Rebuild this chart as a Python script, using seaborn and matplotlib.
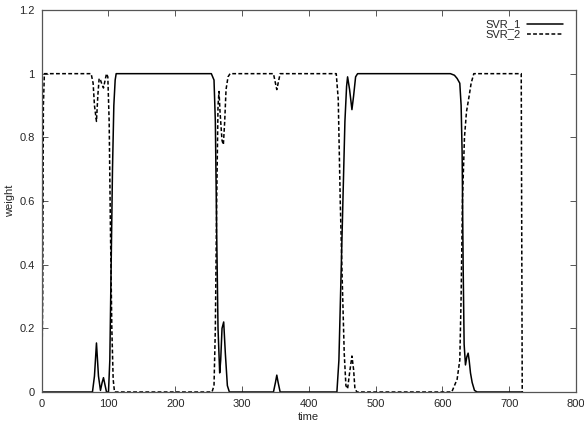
import numpy as np
import matplotlib
matplotlib.use('Agg')
import matplotlib.pyplot as plt
import pandas as pd
import seaborn as sns

# weights
svr1_time = [0, 76, 79, 82, 85, 88, 90.5, 92.5, 95, 97, 100, 102, 104, 106, 108, 110, 111.5,
             254, 258, 260, 262, 264, 266.5, 268, 270, 272.5, 275, 278, 281,
             347, 350, 352, 354, 357,
             442, 445, 448, 451, 454, 456.5, 458, 461, 464.5, 467, 470, 473,
             612, 618, 622, 626, 628, 629.5, 631, 632.5, 634.5, 636.5, 638.5, 640, 642, 644.5, 648, 652, 720]
svr1_weight = [0, 0, 0.05, 0.154, 0.05, 0.005, 0.03, 0.045, 0.02, 0, 0, 0.1, 0.4, 0.7, 0.9, 0.98, 1.0,
               1.0, 0.98, 0.85, 0.5, 0.2, 0.06, 0.1, 0.2, 0.22, 0.12, 0.02, 0,
               0, 0.03, 0.053, 0.03, 0,
               0, 0.1, 0.35, 0.6, 0.85, 0.96, 0.99, 0.95, 0.887, 0.93, 0.99, 1.0,
               1.0, 0.995, 0.985, 0.97, 0.9, 0.75, 0.4, 0.15, 0.085, 0.11, 0.122, 0.1, 0.06, 0.03, 0.005, 0, 0]

svr2_time = [0, 1.5, 2.5, 4, 74, 77, 79, 82, 84, 86, 88, 90.5, 92.5, 95, 97, 99, 101, 103, 105, 107, 109,
             255, 258, 260, 262, 264, 265.5, 267, 270, 272, 274, 276, 279, 282,
             347, 350, 352, 354, 357,
             441, 444, 447, 450, 453, 455.5, 458, 461, 464.5, 467, 469, 472,
             614, 618, 622, 626, 628, 630, 633, 636, 640, 643, 647, 718, 719.5, 720]
svr2_weight = [0, 0.3, 0.9, 1.0, 1.0, 0.97, 0.9, 0.85, 0.93, 0.985, 0.98, 0.965, 0.955, 0.98, 1.0, 0.99, 0.85, 0.5, 0.2, 0.04, 0,
               0, 0.02, 0.2, 0.6, 0.9, 0.944, 0.88, 0.79, 0.777, 0.85, 0.95, 0.99, 1.0,
               1.0, 0.97, 0.95, 0.97, 1.0,
               1.0, 0.92, 0.6, 0.35, 0.12, 0.02, 0.01, 0.06, 0.113, 0.07, 0.01, 0,
               0, 0.02, 0.04, 0.1, 0.3, 0.6, 0.8, 0.88, 0.93, 0.97, 1.0, 1.0, 0, 0]

df1 = pd.DataFrame({'time': svr1_time, 'weight': svr1_weight})
df2 = pd.DataFrame({'time': svr2_time, 'weight': svr2_weight})

sns.set_style('ticks')
plt.rcParams['font.family'] = ['Liberation Sans', 'DejaVu Sans']
plt.rcParams['font.size'] = 8

fig = plt.figure(figsize=(5.84, 4.24), dpi=100)
ax = fig.add_axes([41.7 / 584, 1 - 392 / 424, (576 - 41.7) / 584, (392 - 10) / 424])

sns.lineplot(data=df1, x='time', y='weight', ax=ax, color='black', lw=1.1,
             estimator=None, sort=False, label='SVR_1')
sns.lineplot(data=df2, x='time', y='weight', ax=ax, color='black', lw=1.1,
             estimator=None, sort=False, label='SVR_2', dashes=False)
ax.lines[1].set_dashes((2.5, 1.5))

ax.set_xlim(0, 800)
ax.set_ylim(0, 1.2)
ax.set_xticks(np.arange(0, 801, 100))
ax.set_yticks([0, 0.2, 0.4, 0.6, 0.8, 1.0, 1.2])
ax.set_yticklabels(['0', '0.2', '0.4', '0.6', '0.8', '1', '1.2'])
ax.set_xlabel('time', labelpad=2)
ax.set_ylabel('weight', labelpad=3)

for sp in ax.spines.values():
    sp.set_visible(True)
    sp.set_color('#555555')
    sp.set_linewidth(0.9)
ax.tick_params(direction='in', top=True, right=True, length=4, width=0.7,
               color='#555555', labelsize=8, pad=5)

leg = ax.legend(loc='upper right', bbox_to_anchor=(1 - 4 / 534, 1), frameon=False,
                markerfirst=False, handlelength=3.2, handletextpad=0.6,
                labelspacing=0.0, borderaxespad=0.45, fontsize=8)
for t in leg.get_texts():
    t.set_ha('right')

fig.savefig('out.png', dpi=100)
